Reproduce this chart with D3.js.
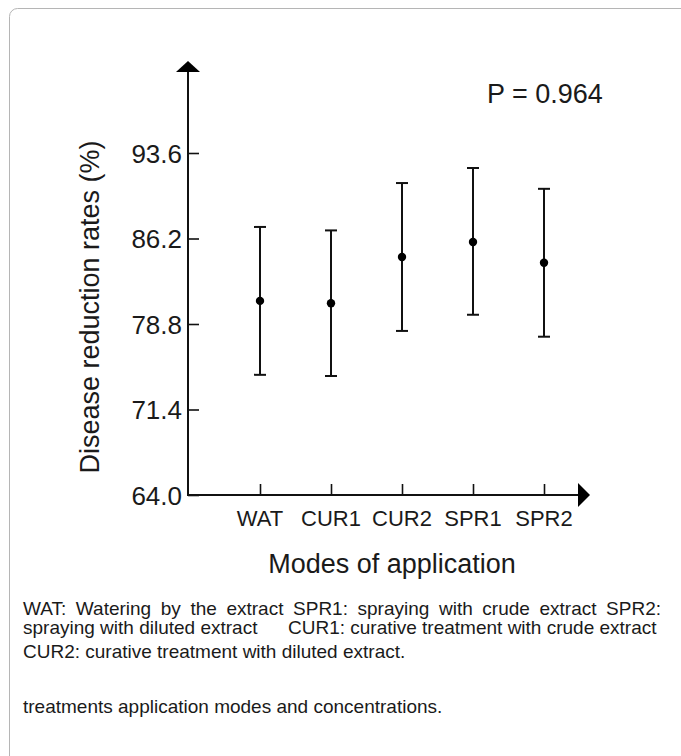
<!DOCTYPE html>
<html>
<head>
<meta charset="utf-8">
<script src="https://cdn.jsdelivr.net/npm/d3@7"></script>
<style>
  html, body { margin: 0; padding: 0; background: #fff; }
  svg { display: block; }
  text { font-family: "Liberation Sans", Arial, sans-serif; fill: #1a1a1a; }
</style>
</head>
<body>
<svg id="chart" width="681" height="756"></svg>
<script>
// ---- data ----
const categories = ["WAT", "CUR1", "CUR2", "SPR1", "SPR2"];
const means = [80.8, 80.6, 84.6, 85.9, 84.1];
const upper = [87.2, 86.9, 91.0, 92.3, 90.5];
const lower = [74.4, 74.3, 78.2, 79.6, 77.7];
const yTicks = [64.0, 71.4, 78.8, 86.2, 93.6];
const pText = "P = 0.964";
const yTitle = "Disease reduction rates (%)";
const xTitle = "Modes of application";
const captionLines = [
  "WAT: Watering by the extract SPR1: spraying with crude extract SPR2:",
  "spraying with diluted extract",
  "CUR1: curative treatment with crude extract",
  "CUR2: curative treatment with diluted extract.",
  "treatments application modes and concentrations."
];

const svg = d3.select("#chart");

// panel border
svg.append("rect")
  .attr("x", 9.5).attr("y", 8.5)
  .attr("width", 720).attr("height", 800)
  .attr("rx", 8).attr("ry", 8)
  .attr("fill", "none").attr("stroke", "#b5b5b5").attr("stroke-width", 1);

const axisX = 188, axisY = 495;
const y = d3.scaleLinear().domain([64, 93.6]).range([495, 153]);
const x = d3.scalePoint().domain(categories).range([260, 544]);

// y axis
const gy = svg.append("g").attr("transform", `translate(${axisX},0)`);
gy.call(d3.axisRight(y).tickValues(yTicks).tickSize(11).tickFormat(""));
gy.select(".domain").remove();
gy.selectAll(".tick line").attr("stroke", "#111").attr("stroke-width", 1.6);
svg.append("line")
  .attr("x1", axisX).attr("x2", axisX)
  .attr("y1", axisY + 1).attr("y2", 70)
  .attr("stroke", "#111").attr("stroke-width", 2);
svg.append("path")
  .attr("d", `M${axisX},61 L${axisX + 12},72 L${axisX - 12},72 Z`)
  .attr("fill", "#000");
svg.append("g").selectAll("text")
  .data(yTicks).join("text")
  .attr("x", 182).attr("y", d => y(d) + 9.5)
  .attr("text-anchor", "end")
  .attr("font-size", 26)
  .text(d => d.toFixed(1));

// x axis
const gx = svg.append("g").attr("transform", `translate(0,${axisY})`);
gx.call(d3.axisTop(x).tickSize(11).tickFormat(""));
gx.select(".domain").remove();
gx.selectAll(".tick line").attr("stroke", "#111").attr("stroke-width", 1.6);
svg.append("line")
  .attr("x1", axisX).attr("x2", 582)
  .attr("y1", axisY).attr("y2", axisY)
  .attr("stroke", "#111").attr("stroke-width", 2);
svg.append("path")
  .attr("d", `M590,${axisY} L578,${axisY - 12} L578,${axisY + 12} Z`)
  .attr("fill", "#000");
svg.append("g").selectAll("text")
  .data(categories).join("text")
  .attr("x", d => x(d)).attr("y", 526)
  .attr("text-anchor", "middle")
  .attr("font-size", 22)
  .text(d => d);

// error bars
const eb = svg.append("g");
categories.forEach((c, i) => {
  const cx = x(c);
  eb.append("line")
    .attr("x1", cx).attr("x2", cx)
    .attr("y1", y(lower[i])).attr("y2", y(upper[i]))
    .attr("stroke", "#111").attr("stroke-width", 2);
  [upper[i], lower[i]].forEach(v => {
    eb.append("line")
      .attr("x1", cx - 6).attr("x2", cx + 6)
      .attr("y1", y(v)).attr("y2", y(v))
      .attr("stroke", "#111").attr("stroke-width", 2);
  });
  eb.append("circle")
    .attr("cx", cx).attr("cy", y(means[i]))
    .attr("r", 4.2).attr("fill", "#000");
});

// annotation
svg.append("text")
  .attr("x", 487).attr("y", 103)
  .attr("font-size", 27)
  .text(pText);

// axis titles
svg.append("text")
  .attr("transform", "translate(99,307) rotate(-90)")
  .attr("text-anchor", "middle")
  .attr("font-size", 27)
  .text(yTitle);
svg.append("text")
  .attr("x", 392).attr("y", 573)
  .attr("text-anchor", "middle")
  .attr("font-size", 27)
  .text(xTitle);

// caption
const capSize = 19;
const capX = 23;
// line 1 justified between capX and 661
(function () {
  const words = captionLines[0].split(" ");
  const g = svg.append("text").attr("y", 615).attr("font-size", capSize);
  const tmp = svg.append("text").attr("font-size", capSize);
  const widths = words.map(w => { tmp.text(w); return tmp.node().getComputedTextLength(); });
  tmp.remove();
  const total = d3.sum(widths);
  const gap = (661 - capX - total) / (words.length - 1);
  let cx = capX;
  words.forEach((w, i) => {
    g.append("tspan").attr("x", cx).text(w);
    cx += widths[i] + gap;
  });
})();
svg.append("text").attr("x", capX).attr("y", 634).attr("font-size", capSize).text(captionLines[1]);
svg.append("text").attr("x", 288).attr("y", 634).attr("font-size", capSize).text(captionLines[2]);
svg.append("text").attr("x", capX).attr("y", 658).attr("font-size", capSize).text(captionLines[3]);
svg.append("text").attr("x", capX).attr("y", 713).attr("font-size", capSize).text(captionLines[4]);
</script>
</body>
</html>
